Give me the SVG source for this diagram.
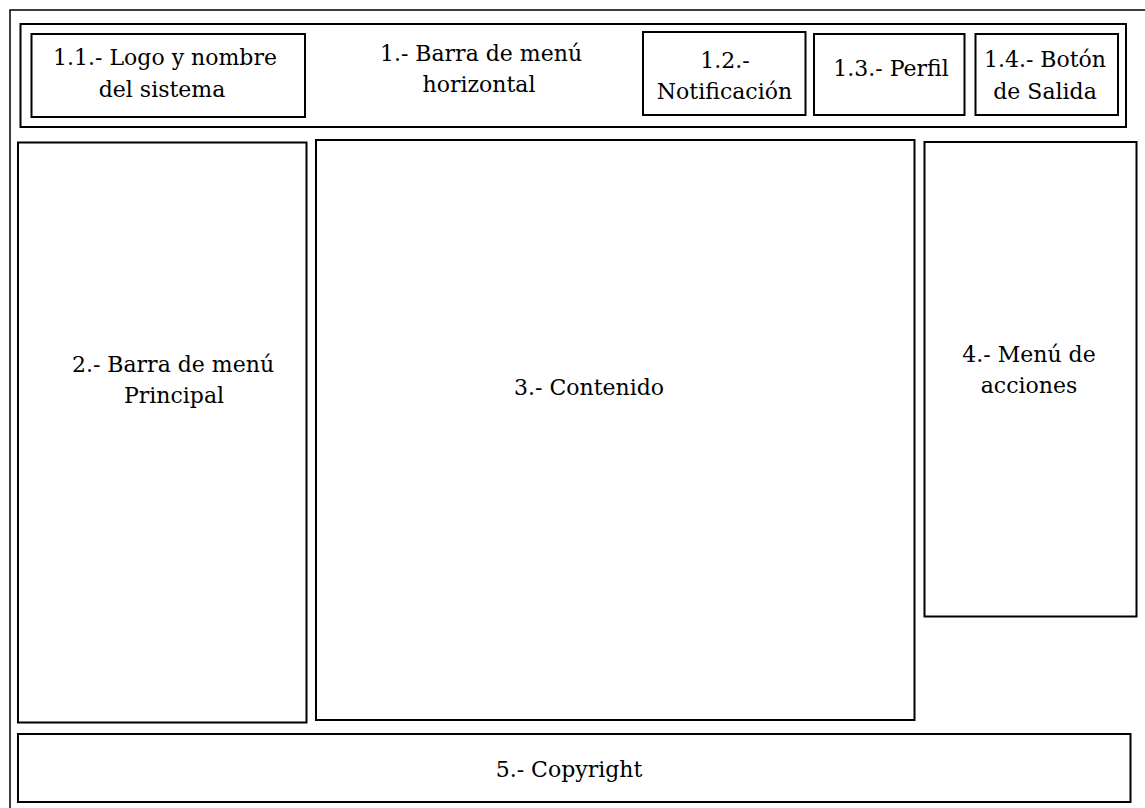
<svg xmlns="http://www.w3.org/2000/svg" width="1145" height="808" viewBox="0 0 1145 808">
<rect x="0" y="0" width="1145" height="808" fill="#fff"/>
<g id="frame"><rect x="10" y="10" width="1150" height="820" fill="#fff" stroke="#000" stroke-width="1.5"/></g>
<g id="n1"><rect x="20.5" y="24" width="1105.5" height="103" fill="#fff" stroke="#000" stroke-width="2"/>
<text x="481" y="61" font-family="DejaVu Serif" font-size="22" text-anchor="middle">1.- Barra de menú</text>
<text x="479" y="92" font-family="DejaVu Serif" font-size="22" text-anchor="middle">horizontal</text></g>
<g id="n11"><rect x="31.5" y="34" width="273.5" height="83" fill="#fff" stroke="#000" stroke-width="2"/>
<text x="165" y="65" font-family="DejaVu Serif" font-size="22" text-anchor="middle">1.1.- Logo y nombre</text>
<text x="162" y="96.5" font-family="DejaVu Serif" font-size="22" text-anchor="middle">del sistema</text></g>
<g id="n12"><rect x="643" y="32" width="162.5" height="83" fill="#fff" stroke="#000" stroke-width="2"/>
<text x="725" y="68" font-family="DejaVu Serif" font-size="22" text-anchor="middle">1.2.-</text>
<text x="724.5" y="99" font-family="DejaVu Serif" font-size="22" text-anchor="middle">Notificación</text></g>
<g id="n13"><rect x="814" y="34" width="150.5" height="81" fill="#fff" stroke="#000" stroke-width="2"/>
<text x="891" y="76" font-family="DejaVu Serif" font-size="22" text-anchor="middle">1.3.- Perfil</text></g>
<g id="n14"><rect x="975.5" y="34" width="142.5" height="81" fill="#fff" stroke="#000" stroke-width="2"/>
<text x="1045" y="66.5" font-family="DejaVu Serif" font-size="22" text-anchor="middle">1.4.- Botón</text>
<text x="1045" y="99" font-family="DejaVu Serif" font-size="22" text-anchor="middle">de Salida</text></g>
<g id="n2"><rect x="18" y="142.5" width="288.5" height="580" fill="#fff" stroke="#000" stroke-width="2"/>
<text x="173" y="371.5" font-family="DejaVu Serif" font-size="22" text-anchor="middle">2.- Barra de menú</text>
<text x="174" y="403" font-family="DejaVu Serif" font-size="22" text-anchor="middle">Principal</text></g>
<g id="n3"><rect x="316" y="140" width="598.5" height="580" fill="#fff" stroke="#000" stroke-width="2"/>
<text x="589" y="395" font-family="DejaVu Serif" font-size="22" text-anchor="middle">3.- Contenido</text></g>
<g id="n4"><rect x="924.5" y="142" width="212" height="474.5" fill="#fff" stroke="#000" stroke-width="2"/>
<text x="1029" y="361.5" font-family="DejaVu Serif" font-size="22" text-anchor="middle">4.- Menú de</text>
<text x="1029" y="393" font-family="DejaVu Serif" font-size="22" text-anchor="middle">acciones</text></g>
<g id="n5"><rect x="18" y="734" width="1112.5" height="68" fill="#fff" stroke="#000" stroke-width="2"/>
<text x="569" y="776.5" font-family="DejaVu Serif" font-size="22" text-anchor="middle">5.- Copyright</text></g>
<g id="connectors"/>
</svg>
